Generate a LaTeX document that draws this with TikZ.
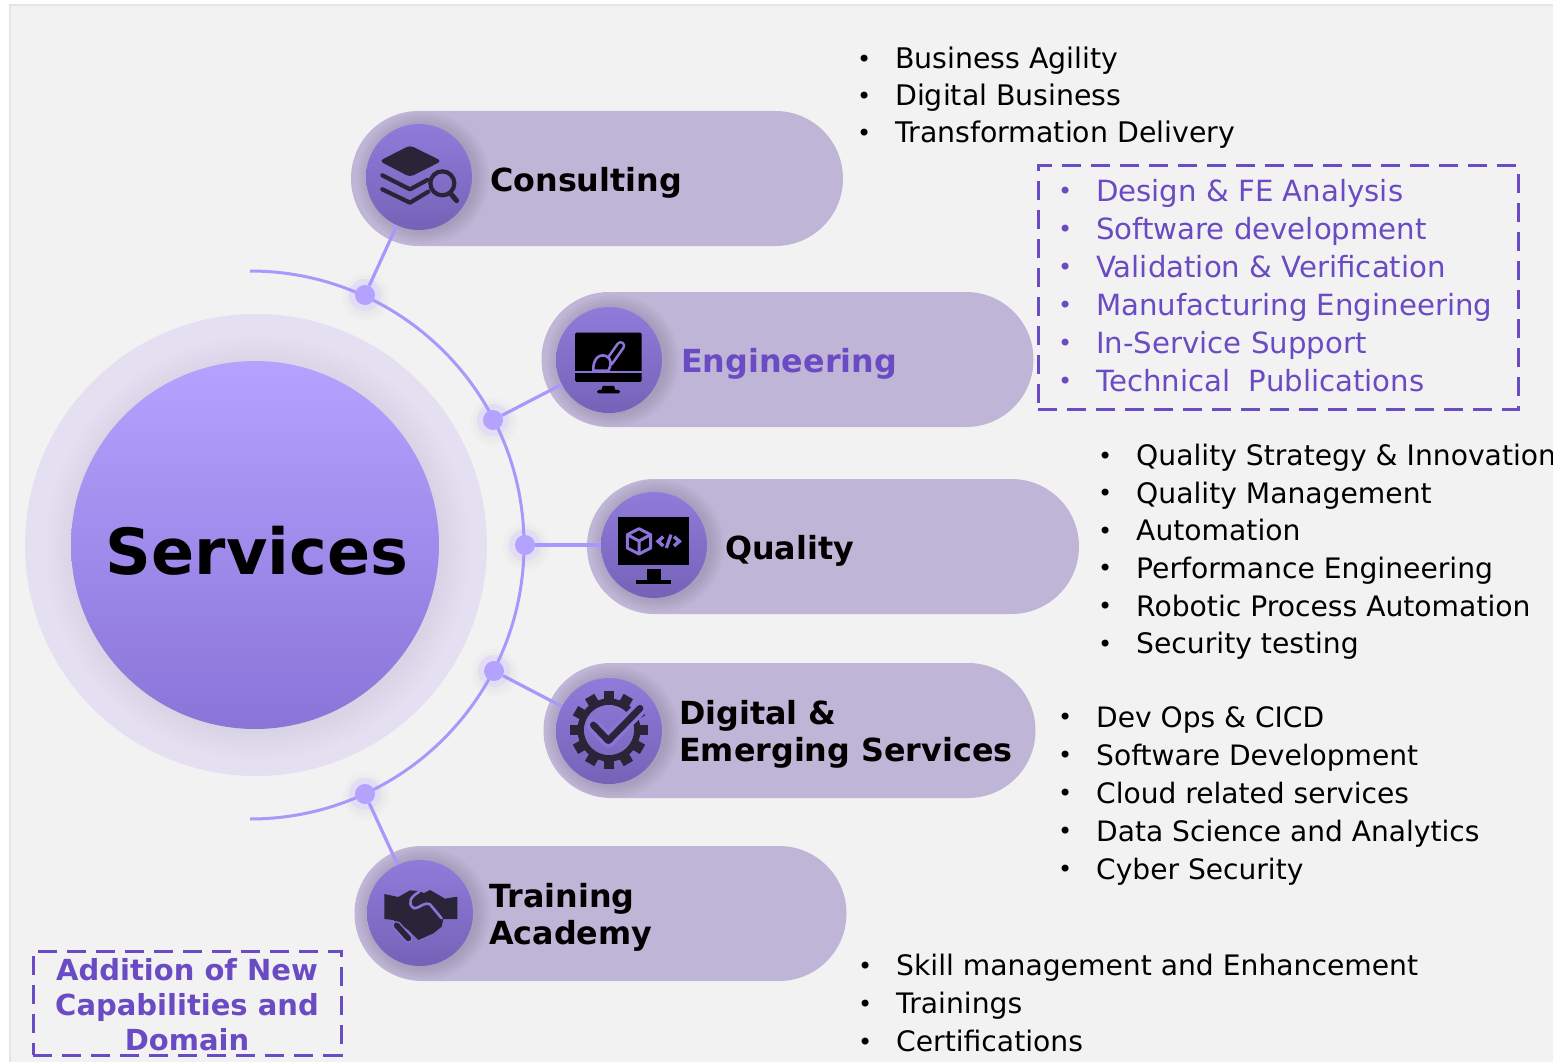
\documentclass[tikz,border=0pt]{standalone}
\usepackage{fontspec}
\setmainfont{DejaVu Sans}
\usetikzlibrary{shapes.misc}
\definecolor{panelbg}{HTML}{F2F2F2}
\definecolor{pillc}{HTML}{BFB5D6}
\definecolor{linec}{HTML}{A998FB}
\definecolor{dotc}{HTML}{B3A3FF}
\definecolor{dothalo}{HTML}{E2DDF5}
\definecolor{haloc}{HTML}{E4E0F2}
\definecolor{accent}{HTML}{6A4BC4}
\definecolor{icond}{HTML}{2A2438}
\definecolor{iconp}{HTML}{8A74D8}
\tikzset{
  pill/.style={rounded rectangle,fill=pillc,inner sep=0pt,minimum width=492pt,minimum height=135pt},
  iconc/.style={circle,inner sep=0pt,minimum size=106pt,top color=iconp!95!white,bottom color=iconp!85!black},
  dotn/.style={circle,fill=dotc,inner sep=0pt,minimum size=20pt},
  conn/.style={draw=linec,line width=3.2pt},
  lab/.style={font=\fontsize{31.8}{37.5}\selectfont\bfseries,anchor=west,align=left,inner sep=0pt},
  lst/.style={anchor=north west,align=left,inner sep=0pt},
  dbox/.style={draw=accent,line width=3pt,dash pattern=on 19pt off 10pt},
  icn/.style={x=0.33333pt,y=-0.33333pt},
}
\newcommand\softshadow[2]{\foreach \r in {54,57,...,66}{\fill[black,opacity=.022] (#1+4,#2+1) circle[radius=\r];}}
\newcommand\dothal[2]{\foreach \r in {18,21,24}{\fill[black,opacity=.012] (#1+1,#2+2) circle[radius=\r];}\fill[dothalo] (#1,#2) circle[radius=16];}
\newcommand\li[1]{\makebox[38pt][l]{\raisebox{1.5pt}{\fontsize{24}{24}\selectfont •}}#1}
\begin{document}
\begin{tikzpicture}[x=1pt,y=-1pt]
\useasboundingbox (0,0) rectangle (1553,1062);
\fill[white] (0,0) rectangle (1553,1062);
\fill[panelbg,draw=black!10,line width=1.5pt] (10,5) rectangle (1560,1070);

% central disc
\node[circle,fill=haloc,inner sep=0pt,minimum size=462pt] (halo) at (256,545) {};
\foreach \r in {186,191,...,211}{\fill[black,opacity=.008] (258,548) circle[radius=\r];}
\node[circle,inner sep=0pt,minimum size=368pt,top color=dotc,middle color=dotc!75!iconp,bottom color=iconp] (core) at (255,545) {};
\node[font=\fontsize{63.6}{70}\selectfont\bfseries] (title) at (257,551) {Services};

% pills
\node[pill] (p1) at (597,178.5) {};
\node[pill] (p2) at (787.5,359.5) {};
\node[pill] (p3) at (833,546.5) {};
\node[pill] (p4) at (789.5,730.5) {};
\node[pill] (p5) at (600.5,913.5) {};
\softshadow{419}{177}
\softshadow{609}{360}
\softshadow{654}{545}
\softshadow{609}{731}
\softshadow{420}{913}
\node[iconc] (i1) at (419,177) {};
\node[iconc] (i2) at (609,360) {};
\node[iconc] (i3) at (654,545) {};
\node[iconc] (i4) at (609,731) {};
\node[iconc] (i5) at (420,913) {};

% arc and dots
\dothal{365}{295}\dothal{493}{420}\dothal{525}{545}\dothal{494}{671}\dothal{365}{794}
\coordinate (arcs) at (250,271);
\draw[conn,line width=3pt] (arcs) arc[start angle=-90,end angle=90,radius=274];
\node[dotn] (d1) at (365,295) {};
\node[dotn] (d2) at (493,420) {};
\node[dotn] (d3) at (525,545) {};
\node[dotn] (d4) at (494,671) {};
\node[dotn] (d5) at (365,794) {};
\draw[conn] (d1) -- (i1);
\draw[conn] (d2) -- (i2);
\draw[conn] (d3) -- (i3);
\draw[conn] (d4) -- (i4);
\draw[conn] (d5) -- (i5);

% icon: consulting
\begin{scope}[shift={(350,100)},icn]
\fill[icond,rounded corners=4pt] (180,136) -- (275,183) -- (180,231) -- (88,183) -- cycle;
\draw[icond,line width=4.2pt,line cap=round,line join=round] (97,226) -- (180,268) -- (232,240);
\draw[icond,line width=4.2pt,line cap=round,line join=round] (97,268) -- (180,308) -- (235,275);
\draw[icond,line width=4.2pt] (277,250) circle[radius=36];
\draw[icond,line width=5pt,line cap=round] (303,282) -- (320,302);
\end{scope}

% icon: engineering
\begin{scope}[shift={(350,100)},icn]
\fill[black,rounded corners=1.5pt] (675,698) rectangle (875,846);
\fill[iconp] (675,812) rectangle (875,820);
\fill[black] (758,858) -- (792,858) -- (796,870) -- (754,870) -- cycle;
\fill[black,rounded corners=1.5pt] (741,870) rectangle (810,880);
\draw[iconp,line width=9.5pt,line cap=round] (778,785) -- (812,737);
\draw[black,line width=4.2pt,line cap=round] (778,785) -- (812,737);
\fill[black,draw=iconp,line width=2.6pt] (730,812) .. controls (728,780) and (745,760) .. (768,768) .. controls (785,775) and (785,795) .. (775,812) -- cycle;
\end{scope}

% icon: quality
\begin{scope}[shift={(500,470)},icn]
\fill[black] (354,142) rectangle (568,286);
\fill[black] (442,298) rectangle (482,332);
\fill[black] (408,330) rectangle (513,342);
\draw[iconp,line width=3pt,line join=round] (417,176) -- (452,194) -- (452,234) -- (417,252) -- (382,234) -- (382,194) -- cycle;
\draw[iconp,line width=3pt,line join=round] (382,194) -- (417,213) -- (452,194) (417,213) -- (417,252);
\draw[iconp,line width=3.4pt,line join=miter] (490,200) -- (474,214) -- (490,228);
\draw[iconp,line width=3.4pt,line join=miter] (522,200) -- (538,214) -- (522,228);
\draw[iconp,line width=3.2pt] (513,194) -- (499,234);
\end{scope}

% icon: digital
\begin{scope}[shift={(500,470)},icn]
\foreach \a in {0,30,...,330}{\fill[icond,rotate around={\a:(327,780)}] (311,664) rectangle (343,700);}
\draw[icond,line width=6.4pt] (327,780) circle[radius=85];
\draw[iconp,line width=14pt,line cap=round,line join=round] (280,765) -- (325,812) -- (420,715);
\draw[icond,line width=6.8pt,line cap=round,line join=round] (280,765) -- (325,812) -- (420,715);
\end{scope}

% icon: training
\begin{scope}[shift={(340,770)},icn]
\fill[icond] (133,372) -- (175,381) -- (210,361) -- (232,363) -- (252,369) -- (270,360) -- (315,386) -- (352,380) -- (352,447) -- (310,447) -- (305,470) -- (280,490) -- (235,510) -- (205,480) -- (160,450) -- (133,447) -- cycle;
\draw[iconp,line width=2.6pt,line cap=round,line join=round] (237,366) .. controls (212,380) and (200,400) .. (222,415) .. controls (240,415) and (250,395) .. (270,403) -- (305,445);
\draw[iconp,line width=8.5pt,line cap=round] (170,466) -- (205,505);
\draw[icond,line width=5.8pt,line cap=round] (170,466) -- (205,505);
\end{scope}

% labels
\node[lab] (l1) at (490,183) {Consulting};
\node[lab,text=accent] (l2) at (681,364) {Engineering};
\node[lab] (l3) at (725,551) {Quality};
\node[lab] (l4) at (679,734.5) {Digital \&\\Emerging Services};
\node[lab] (l5) at (489,917.5) {Training\\Academy};

% lists
\node[lst,font=\fontsize{28.4}{37}\selectfont] (t1) at (857,47) {\li{Business Agility}\\\li{Digital Business}\\\li{Transformation Delivery}};
\node[dbox,minimum width=480pt,minimum height=243pt,inner sep=0pt] (bx1) at (1278,287.5) {};
\node[lst,font=\fontsize{29.2}{38}\selectfont,text=accent] (t2) at (1058,179) {\li{Design \& FE Analysis}\\\li{Software development}\\\li{Validation \& Verification}\\\li{Manufacturing Engineering}\\\li{In-Service Support}\\\li{Technical\ \ Publications}};
\node[lst,font=\fontsize{28.2}{37.6}\selectfont] (t3) at (1098,444) {\li{Quality Strategy \& Innovation}\\\li{Quality Management}\\\li{Automation}\\\li{Performance Engineering}\\\li{Robotic Process Automation}\\\li{Security testing}};
\node[lst,font=\fontsize{28.1}{38}\selectfont] (t4) at (1058,706) {\li{Dev Ops \& CICD}\\\li{Software Development}\\\li{Cloud related services}\\\li{Data Science and Analytics}\\\li{Cyber Security}};
\node[lst,font=\fontsize{28.2}{38}\selectfont] (t5) at (858,954) {\li{Skill management and Enhancement}\\\li{Trainings}\\\li{Certifications}};

% corner note
\node[dbox,minimum width=308pt,minimum height=104pt,inner sep=0pt] (bx2) at (187,1003) {};
\node[font=\fontsize{29}{35}\selectfont\bfseries,text=accent,align=center,inner sep=0pt] (note) at (187,1005) {Addition of New\\Capabilities and\\Domain};
\end{tikzpicture}
\end{document}
